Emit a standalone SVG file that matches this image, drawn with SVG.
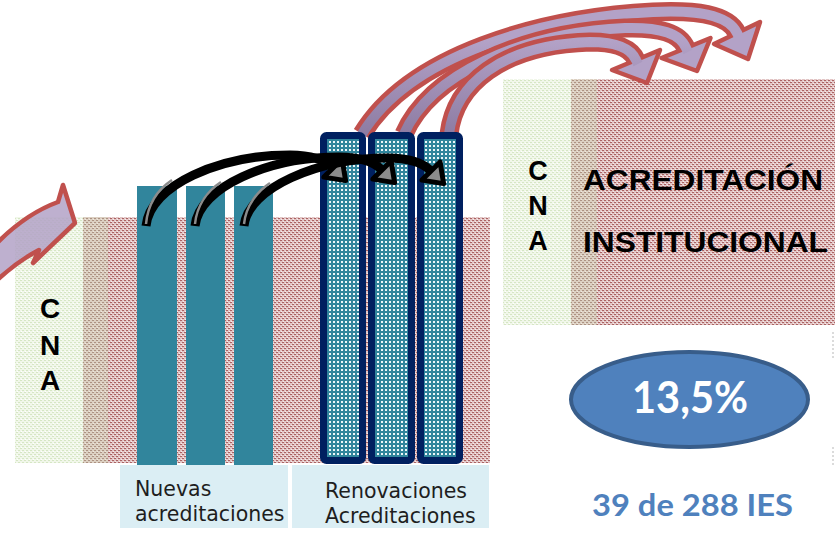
<svg xmlns="http://www.w3.org/2000/svg" width="835" height="535" viewBox="0 0 835 535">
<defs>
<pattern id="pGreen" width="4" height="4" patternUnits="userSpaceOnUse">
<rect width="4" height="4" fill="#f1f7ea"/>
<rect x="0" y="0" width="2" height="1" fill="#d6e6c4"/>
<rect x="2" y="2" width="2" height="1" fill="#d6e6c4"/>
<rect x="1" y="3" width="1" height="1" fill="#ffffff"/>
</pattern>
<pattern id="pMix" width="4" height="4" patternUnits="userSpaceOnUse">
<rect width="4" height="4" fill="#dcd0c2"/>
<rect x="0" y="0" width="2" height="1" fill="#ad9282"/>
<rect x="2" y="2" width="2" height="1" fill="#ad9282"/>
<rect x="1" y="3" width="1" height="1" fill="#f0e8de"/>
</pattern>
<pattern id="pPink" width="4" height="4" patternUnits="userSpaceOnUse">
<rect width="4" height="4" fill="#e2c5c5"/>
<rect x="0" y="0" width="2" height="1" fill="#ab6262"/>
<rect x="2" y="2" width="2" height="1" fill="#ab6262"/>
<rect x="1" y="3" width="1" height="1" fill="#f7eded"/>
<rect x="3" y="1" width="1" height="1" fill="#f7eded"/>
</pattern>
<pattern id="pDots" width="4" height="4" patternUnits="userSpaceOnUse">
<rect width="4" height="4" fill="#31859c"/>
<rect x="1" y="1" width="2" height="2" fill="#eef7f9"/>
</pattern>
<linearGradient id="gLav" x1="0" y1="134" x2="0" y2="40" gradientUnits="userSpaceOnUse">
<stop offset="0" stop-color="#8d7ca3"/>
<stop offset="1" stop-color="#b3a2c7"/>
</linearGradient>
<style>
.lbl{font-family:"DejaVu Sans",Verdana,sans-serif;font-size:20.5px;fill:#1e1e1e}
.cna{font-family:"Liberation Sans",Arial,sans-serif;font-weight:bold;font-size:28px;fill:#000;text-anchor:middle}
.big{font-family:"Liberation Sans",Arial,sans-serif;font-weight:bold;font-size:29px;fill:#000}
.rOut{fill:none;stroke:#c0504d;stroke-width:19}
.rIn{fill:none;stroke:url(#gLav);stroke-width:10}
.rHead{fill:#b3a2c7;stroke:#c0504d;stroke-width:4.5;stroke-linejoin:round}
.bShaft{fill:none;stroke:#000;stroke-width:9;stroke-linecap:butt}
.bGray{fill:none;stroke:#8c8c8c;stroke-width:2.5}
.bHead{fill:#8c8c8c;stroke:#000;stroke-width:5;stroke-linejoin:round}
.teal{fill:#31859c}
.navy{fill:url(#pDots);stroke:#002060;stroke-width:7}
.box{fill:#dbeef4}
</style>
</defs>
<rect width="835" height="535" fill="#ffffff"/>

<g id="cna-left">
<rect x="15" y="217" width="68" height="246" fill="url(#pGreen)"/>
<rect x="83" y="217" width="25" height="246" fill="url(#pMix)"/>
<rect x="108" y="217" width="382" height="246" fill="url(#pPink)"/>
<text class="cna" x="50" y="318">C</text>
<text class="cna" x="50" y="355">N</text>
<text class="cna" x="50" y="390">A</text>
</g>

<g id="cna-right">
<rect x="503" y="79" width="68" height="246" fill="url(#pGreen)"/>
<rect x="571" y="79" width="26" height="246" fill="url(#pMix)"/>
<rect x="597" y="79" width="238" height="246" fill="url(#pPink)"/>
<text class="cna" x="538" y="180" style="font-size:27px">C</text>
<text class="cna" x="538" y="215" style="font-size:27px">N</text>
<text class="cna" x="538" y="250" style="font-size:27px">A</text>
<text class="big" x="583" y="190" textLength="240" lengthAdjust="spacingAndGlyphs">ACREDITACIÓN</text>
<text class="big" x="583" y="252" textLength="245" lengthAdjust="spacingAndGlyphs">INSTITUCIONAL</text>
</g>

<g id="left-arrow">
<path d="M-6,246 Q25,214 58,202 L63,185 L75,223 L33,263 L39,250 Q16,262 -6,283 Z" fill="#b3a2c7" fill-opacity="0.85" stroke="#c0504d" stroke-width="4.5" stroke-linejoin="round"/>
</g>

<g id="label-nuevas">
<rect class="box" x="120" y="465" width="168" height="63"/>
<text class="lbl" x="135" y="496">Nuevas</text>
<text class="lbl" x="135" y="521">acreditaciones</text>
</g>
<g id="label-renovaciones">
<rect class="box" x="292" y="465" width="197" height="63"/>
<text class="lbl" x="325" y="498">Renovaciones</text>
<text class="lbl" x="325" y="523">Acreditaciones</text>
</g>

<g id="nuevas-bars">
<rect class="teal" x="137" y="186" width="40" height="279"/>
<rect class="teal" x="186" y="186" width="39" height="279"/>
<rect class="teal" x="234" y="186" width="39" height="279"/>
</g>

<g id="connectors">
<g id="red-arrows">
<g>
<path class="rOut" d="M362,134 C410,55 540,18 653,12 C695,10 728,14 737,33"/>
<polygon class="rHead" points="714,44 760,22 748,59"/>
<path class="rIn" d="M362,134 C410,55 540,18 653,12 C695,10 728,14 737,33 L739,37"/>
</g>
<g>
<path class="rOut" d="M404,134 C430,75 520,33 625,28 C660,27 680,33 686,48"/>
<polygon class="rHead" points="661.5,58 710.5,38 697,71"/>
<path class="rIn" d="M404,134 C430,75 520,33 625,28 C660,27 680,33 686,48 L688,52"/>
</g>
<g>
<path class="rOut" d="M449,134 C455,85 500,45 590,42 C615,42 631,48 636,60"/>
<polygon class="rHead" points="612,70 660,50 647,83"/>
<path class="rIn" d="M449,134 C455,85 500,45 590,42 C615,42 631,48 636,60 L638,64"/>
</g>
</g>
</g>

<g id="renovaciones-bars">
<rect class="navy" x="323.5" y="135.5" width="39" height="325" rx="3"/>
<rect class="navy" x="371.5" y="135.5" width="40" height="325" rx="3"/>
<rect class="navy" x="420.5" y="135.5" width="39" height="325" rx="3"/>
</g>

<g id="black-arrows">
<g>
<path class="bShaft" d="M146,226 C150,185 220,155 290,155 C312,155 326,161 333,168"/>
<path class="bGray" d="M146,224 C148,202 160,188 172,180"/>
<polygon class="bHead" points="323.9,177.1 342.1,158.9 345.6,180.6"/>
</g>
<g transform="translate(49,2)">
<path class="bShaft" d="M146,224 C150,185 220,155 290,155 C312,155 326,161 333,168"/>
<path class="bGray" d="M146,222 C148,202 160,188 172,180"/>
<polygon class="bHead" points="323.9,177.1 342.1,158.9 345.6,180.6"/>
</g>
<g transform="translate(98,3)">
<path class="bShaft" d="M146,223 C150,185 220,155 290,155 C312,155 326,161 333,168"/>
<path class="bGray" d="M146,221 C148,202 160,188 172,180"/>
<polygon class="bHead" points="323.9,177.1 342.1,158.9 345.6,180.6"/>
</g>
</g>

<g id="percent">
<ellipse cx="689.5" cy="399.5" rx="118.5" ry="47.5" fill="#4f81bd" stroke="#385d8a" stroke-width="4"/>
<text x="690" y="413" text-anchor="middle" font-family="Lato, 'Open Sans', sans-serif" font-weight="bold" font-size="43" fill="#ffffff" textLength="116" lengthAdjust="spacingAndGlyphs">13,5%</text>
</g>
<g id="ies">
<text x="692.5" y="516" text-anchor="middle" font-family="Lato, 'Open Sans', sans-serif" font-weight="bold" font-size="30" fill="#4f81bd" textLength="201" lengthAdjust="spacingAndGlyphs">39 de 288 IES</text>
</g>
<g id="edge-marks" stroke="#cfcfcf" stroke-width="1.5" stroke-dasharray="2 2">
<line x1="833" y1="332" x2="833" y2="358"/>
<line x1="833" y1="447" x2="833" y2="467"/>
</g>
</svg>
